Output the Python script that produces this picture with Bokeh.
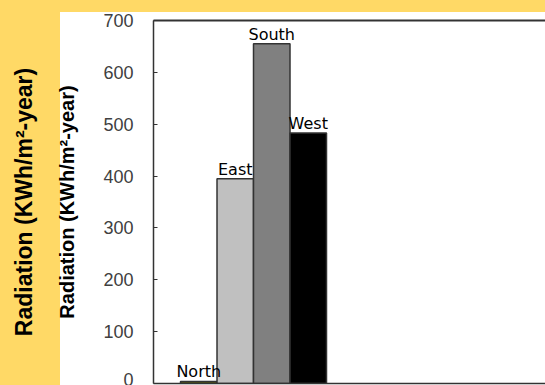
from bokeh.plotting import figure
from bokeh.models import (LinearAxis, SingleIntervalTicker, FixedTicker,
                          ColumnDataSource, Range1d)
from bokeh.embed import file_html
from bokeh.resources import INLINE
from bokeh.core.properties import value

# ---- data ----
directions = ["North", "East", "South", "West"]
radiation = [4, 395, 655, 483]
bar_colors = ["#666600", "#C0C0C0", "#808080", "#000000"]
y_title = "Radiation (KWh/m²-year)"

positions = list(range(len(directions)))
src = ColumnDataSource(dict(x=positions, top=radiation, name=directions, color=bar_colors))

YELLOW = "#FFD966"

p = figure(width=545, height=385, output_backend="svg", toolbar_location=None,
           x_range=Range1d(-1.24, 9.5), y_range=Range1d(0, 700),
           min_border_left=153, min_border_top=20, min_border_bottom=2, min_border_right=0,
           border_fill_color=None, background_fill_color="white")
# slide background: yellow with a white panel behind the chart
p.styles = {"background": "linear-gradient(#ffffff, #ffffff) 60px 12px / 485px 373px no-repeat, "
                          + YELLOW}
p.outline_line_color = None
p.grid.visible = False

# bars
p.vbar(x="x", top="top", width=1.0, bottom=0, source=src, fill_color="color",
       line_color="#333333", line_width=1.5)
p.text(x="x", y="top", text="name", source=src, text_align="center",
       text_baseline="bottom", y_offset=0, text_font=value("DejaVu Sans"),
       text_font_size="16px", text_color="black")

# bottom axis: line only
xa = p.xaxis[0]
xa.ticker = FixedTicker(ticks=[])
xa.major_label_text_font_size = "0px"
xa.major_tick_line_color = None
xa.minor_tick_line_color = None
xa.axis_line_color = "#333333"
xa.axis_line_width = 1.5

# top line
top_ax = LinearAxis(ticker=FixedTicker(ticks=[]), major_label_text_font_size="0px",
                    major_tick_line_color=None, minor_tick_line_color=None,
                    axis_line_color="#333333", axis_line_width=2)
p.add_layout(top_ax, "above")

# inner y axis
ya = p.yaxis[0]
ya.ticker = SingleIntervalTicker(interval=100)
ya.minor_tick_line_color = None
ya.major_tick_in = 4
ya.major_tick_out = 0
ya.major_tick_line_color = "#333333"
ya.axis_line_color = "#333333"
ya.axis_line_width = 1.5
ya.major_label_standoff = 16
ya.major_label_text_font = "Liberation Sans"
ya.major_label_text_font_size = "18px"
ya.major_label_text_color = "#404040"
ya.axis_label = y_title
ya.axis_label_text_font = "Liberation Sans"
ya.axis_label_text_font_style = "bold"
ya.axis_label_text_font_size = "20px"
ya.axis_label_text_color = "black"
ya.axis_label_standoff = 22

# outer title on the slide
outer = LinearAxis(ticker=FixedTicker(ticks=[]), major_label_text_font_size="0px",
                   major_tick_line_color=None, minor_tick_line_color=None,
                   axis_line_color=None, axis_label=y_title,
                   axis_label_text_font="Liberation Sans", axis_label_text_font_style="bold",
                   axis_label_text_font_size="23px", axis_label_text_color="black",
                   axis_label_standoff=17)
p.add_layout(outer, "left")

open("out.html", "w").write(file_html(p, INLINE))
